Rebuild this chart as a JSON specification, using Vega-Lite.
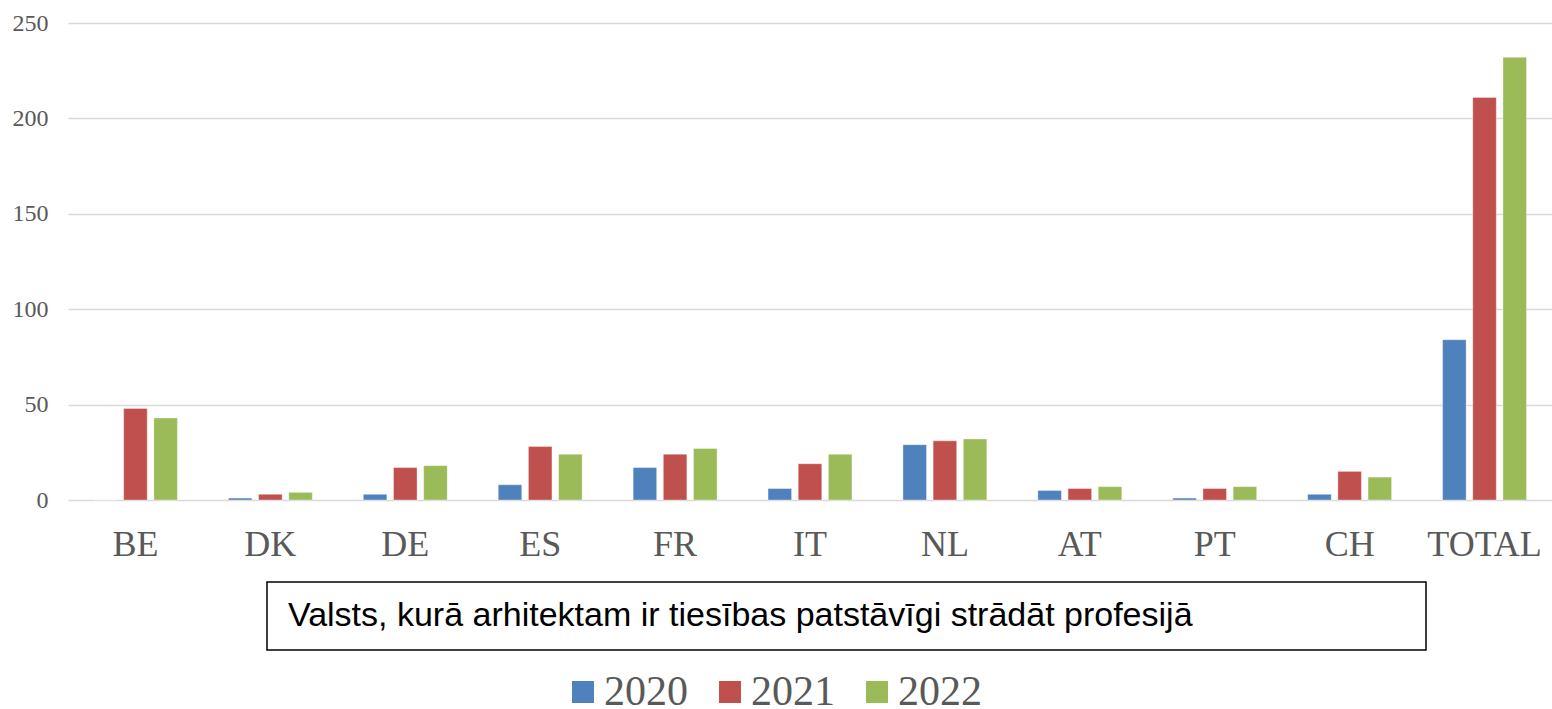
{
  "$schema": "https://vega.github.io/schema/vega-lite/v6.json",
  "padding": {"left": 12, "top": 11, "right": 0, "bottom": 0},
  "background": "white",
  "config": {
    "view": {"stroke": null}
  },
  "spacing": 19,
  "vconcat": [
    {
      "width": 1484,
      "height": 477,
      "data": {
        "values": [
          {"country": "BE", "year": "2020", "value": 0},
          {"country": "BE", "year": "2021", "value": 48},
          {"country": "BE", "year": "2022", "value": 43},
          {"country": "DK", "year": "2020", "value": 1},
          {"country": "DK", "year": "2021", "value": 3},
          {"country": "DK", "year": "2022", "value": 4},
          {"country": "DE", "year": "2020", "value": 3},
          {"country": "DE", "year": "2021", "value": 17},
          {"country": "DE", "year": "2022", "value": 18},
          {"country": "ES", "year": "2020", "value": 8},
          {"country": "ES", "year": "2021", "value": 28},
          {"country": "ES", "year": "2022", "value": 24},
          {"country": "FR", "year": "2020", "value": 17},
          {"country": "FR", "year": "2021", "value": 24},
          {"country": "FR", "year": "2022", "value": 27},
          {"country": "IT", "year": "2020", "value": 6},
          {"country": "IT", "year": "2021", "value": 19},
          {"country": "IT", "year": "2022", "value": 24},
          {"country": "NL", "year": "2020", "value": 29},
          {"country": "NL", "year": "2021", "value": 31},
          {"country": "NL", "year": "2022", "value": 32},
          {"country": "AT", "year": "2020", "value": 5},
          {"country": "AT", "year": "2021", "value": 6},
          {"country": "AT", "year": "2022", "value": 7},
          {"country": "PT", "year": "2020", "value": 1},
          {"country": "PT", "year": "2021", "value": 6},
          {"country": "PT", "year": "2022", "value": 7},
          {"country": "CH", "year": "2020", "value": 3},
          {"country": "CH", "year": "2021", "value": 15},
          {"country": "CH", "year": "2022", "value": 12},
          {"country": "TOTAL", "year": "2020", "value": 84},
          {"country": "TOTAL", "year": "2021", "value": 211},
          {"country": "TOTAL", "year": "2022", "value": 232}
        ]
      },
      "mark": {"type": "bar", "stroke": "white", "strokeWidth": 0.6, "strokeOpacity": 0.6},
      "encoding": {
        "x": {
          "field": "country",
          "type": "nominal",
          "sort": null,
          "scale": {"paddingInner": 0.378, "paddingOuter": 0.189},
          "axis": {
            "title": null,
            "labelAngle": 0,
            "labelFont": "Liberation Serif",
            "labelFontSize": 36,
            "labelColor": "#595959",
            "labelPadding": 27,
            "ticks": false,
            "domain": false,
            "grid": false
          }
        },
        "xOffset": {
          "field": "year",
          "type": "nominal",
          "scale": {"paddingInner": 0.22, "paddingOuter": 0}
        },
        "y": {
          "field": "value",
          "type": "quantitative",
          "scale": {"domain": [0, 250], "nice": false},
          "axis": {
            "title": null,
            "values": [0, 50, 100, 150, 200, 250],
            "labelFont": "Liberation Serif",
            "labelFontSize": 24,
            "labelColor": "#595959",
            "labelPadding": 20,
            "ticks": false,
            "domain": false,
            "grid": true,
            "gridColor": "#d9d9d9",
            "gridWidth": 1.5
          }
        },
        "color": {
          "field": "year",
          "type": "nominal",
          "scale": {"domain": ["2020", "2021", "2022"], "range": ["#4f81bd", "#c0504d", "#9bbb59"]},
          "legend": {
            "orient": "none",
            "legendX": 494,
            "legendY": 648,
            "direction": "horizontal",
            "title": null,
            "padding": 0,
            "symbolType": "square",
            "symbolSize": 484,
            "symbolStrokeWidth": 0,
            "symbolOpacity": 1,
            "labelFont": "Liberation Serif",
            "labelFontSize": 42,
            "labelColor": "#595959",
            "labelOffset": 0,
            "columnPadding": 21
          }
        }
      }
    },
    {
      "spacing": 0,
      "hconcat": [
        {
          "width": 198,
          "height": 68,
          "data": {"values": []},
          "mark": {"type": "point", "opacity": 0},
          "encoding": {}
        },
        {
          "width": 1159,
          "height": 68,
          "view": {"stroke": "black", "strokeWidth": 1.5},
          "data": {"values": [{"label": "Valsts, kurā arhitektam ir tiesības patstāvīgi strādāt profesijā"}]},
          "mark": {
            "type": "text",
            "align": "left",
            "baseline": "middle",
            "font": "Liberation Sans",
            "fontSize": 34,
            "color": "black"
          },
          "encoding": {
            "text": {"field": "label", "type": "nominal"},
            "x": {"value": 21}
          }
        }
      ]
    }
  ]
}
